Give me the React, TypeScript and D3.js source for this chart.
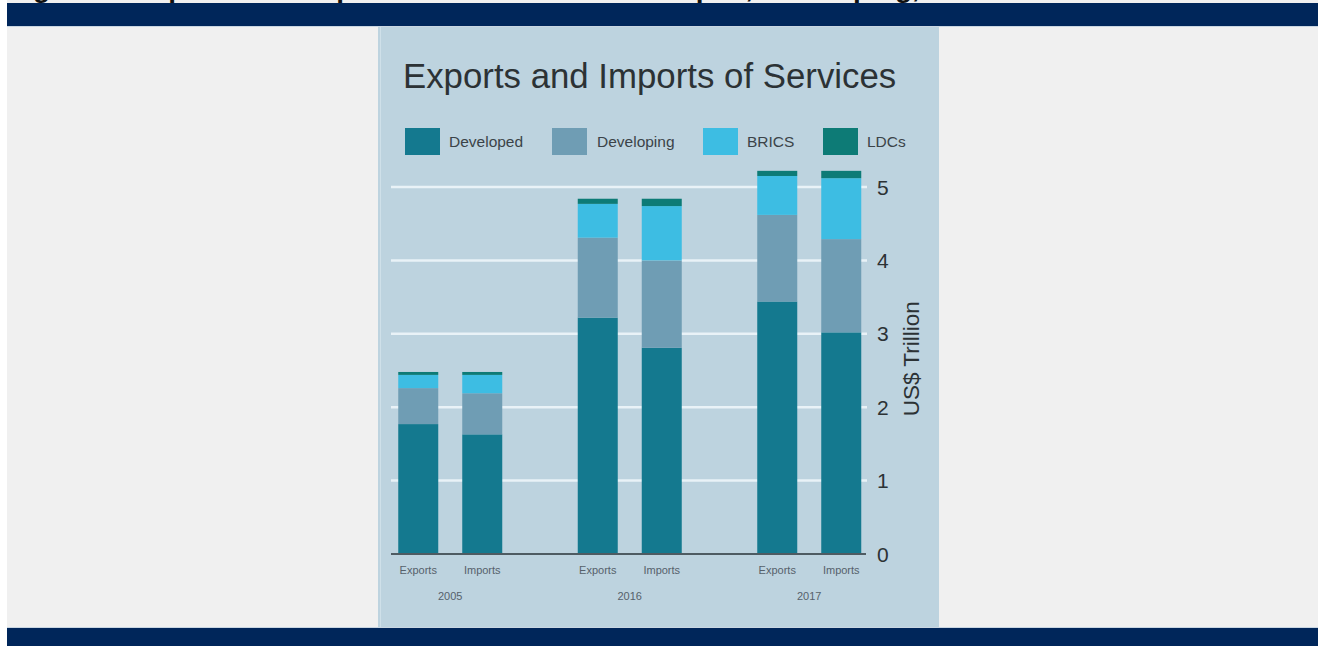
import React from "react";
import * as d3 from "d3";

const years = ["2005", "2016", "2017"];
const flows = ["Exports", "Imports"];
const seriesNames = ["Developed", "Developing", "BRICS", "LDCs"];
const seriesColors = ["#14798f", "#6f9db4", "#3dbde3", "#0d7b76"];

// values in US$ trillion, per series, ordered: 2005 Exp, 2005 Imp, 2016 Exp, 2016 Imp, 2017 Exp, 2017 Imp
const developed = [1.77, 1.63, 3.22, 2.81, 3.44, 3.02];
const developing = [0.49, 0.56, 1.09, 1.19, 1.18, 1.27];
const brics = [0.18, 0.25, 0.46, 0.74, 0.53, 0.83];
const ldcs = [0.04, 0.04, 0.07, 0.1, 0.07, 0.1];
const yTicks = [0, 1, 2, 3, 4, 5];

const W = 1325;
const H = 646;

export default function App() {
  const rows = years.flatMap((y, yi) =>
    flows.map((f, fi) => {
      const i = yi * 2 + fi;
      return {
        year: y,
        flow: f,
        Developed: developed[i],
        Developing: developing[i],
        BRICS: brics[i],
        LDCs: ldcs[i],
      };
    })
  );
  const stack = d3.stack<any>().keys(seriesNames)(rows);

  const xGroup = d3.scaleBand().domain(years).range([360.5, 899]).paddingInner(0).paddingOuter(0);
  const xInner = d3.scaleBand().domain(flows).range([-52, 52]).paddingInner(0.375).paddingOuter(0);
  const y = d3.scaleLinear().domain([0, 5]).range([554, 187]);

  const gridX0 = 391;
  const gridX1 = 867;

  return (
    <svg
      width={W}
      height={H}
      style={{ position: "absolute", left: 0, top: 0, display: "block" }}
      fontFamily="'Liberation Sans', Arial, Helvetica, sans-serif"
    >
      <rect x={0} y={0} width={W} height={H} fill="#ffffff" />
      <rect x={7} y={0} width={1311} height={H} fill="#f0f0f0" />
      {/* heading of the page, mostly above the visible area */}
      <text x={8} y={-3} fontSize={28} fontWeight="bold" fill="#111">
        Figure 1: Exports and Imports of Services in Developed, Developing, BRICS and LDC Economies
      </text>
      <rect x={7} y={3} width={1311} height={23} fill="#00265a" />
      <rect x={7} y={26} width={1311} height={1} fill="#c9d6e2" />
      <rect x={7} y={628} width={1311} height={18} fill="#00265a" />
      <rect x={7} y={627} width={1311} height={1} fill="#c9d6e2" />

      {/* panel */}
      <rect x={378} y={27} width={561} height={600} fill="#bdd3df" />
      <rect x={380} y={27} width={1} height={600} fill="#cfe0e9" />

      <text x={403} y={88} fontSize={34.8} fill="#2c3235">
        Exports and Imports of Services
      </text>

      {/* legend */}
      {seriesNames.map((s, i) => {
        const lx = [405, 552, 703, 823][i];
        const tx = [449, 597, 747, 867][i];
        return (
          <g key={s}>
            <rect x={lx} y={128} width={35} height={27} fill={seriesColors[i]} />
            <text x={tx} y={142} dy="0.35em" fontSize={15.5} fill="#3b4348">
              {s}
            </text>
          </g>
        );
      })}

      {/* gridlines */}
      {yTicks
        .filter((t) => t > 0)
        .map((t) => (
          <line
            key={t}
            x1={gridX0}
            x2={gridX1}
            y1={y(t)}
            y2={y(t)}
            stroke="#e9f2f7"
            strokeWidth={2.5}
          />
        ))}

      {/* bars */}
      {stack.map((layer, li) => (
        <g key={seriesNames[li]} fill={seriesColors[li]}>
          {layer.map((d, i) => {
            const r = rows[i];
            const x = (xGroup(r.year) as number) + xGroup.bandwidth() / 2 + (xInner(r.flow) as number);
            return (
              <rect
                key={i}
                x={x}
                y={y(d[1])}
                width={xInner.bandwidth()}
                height={y(d[0]) - y(d[1])}
              />
            );
          })}
        </g>
      ))}

      {/* baseline */}
      <line x1={gridX0} x2={866} y1={y(0)} y2={y(0)} stroke="#4e5b62" strokeWidth={2} />

      {/* y axis labels */}
      {yTicks.map((t) => (
        <text key={t} x={877} y={y(t)} dy="0.36em" fontSize={21} fill="#2c3235">
          {t}
        </text>
      ))}
      <text
        transform={`translate(911, ${y(2.66)}) rotate(-90)`}
        textAnchor="middle"
        dy="0.36em"
        fontSize={22.5}
        fill="#2c3235"
      >
        US$ Trillion
      </text>

      {/* x labels */}
      {rows.map((r, i) => {
        const cx =
          (xGroup(r.year) as number) +
          xGroup.bandwidth() / 2 +
          (xInner(r.flow) as number) +
          xInner.bandwidth() / 2;
        return (
          <text key={i} x={cx} y={570} dy="0.35em" textAnchor="middle" fontSize={11} fill="#56616b">
            {r.flow}
          </text>
        );
      })}
      {years.map((yr) => (
        <text
          key={yr}
          x={(xGroup(yr) as number) + xGroup.bandwidth() / 2}
          y={596}
          dy="0.35em"
          textAnchor="middle"
          fontSize={11}
          fill="#56616b"
        >
          {yr}
        </text>
      ))}
    </svg>
  );
}
